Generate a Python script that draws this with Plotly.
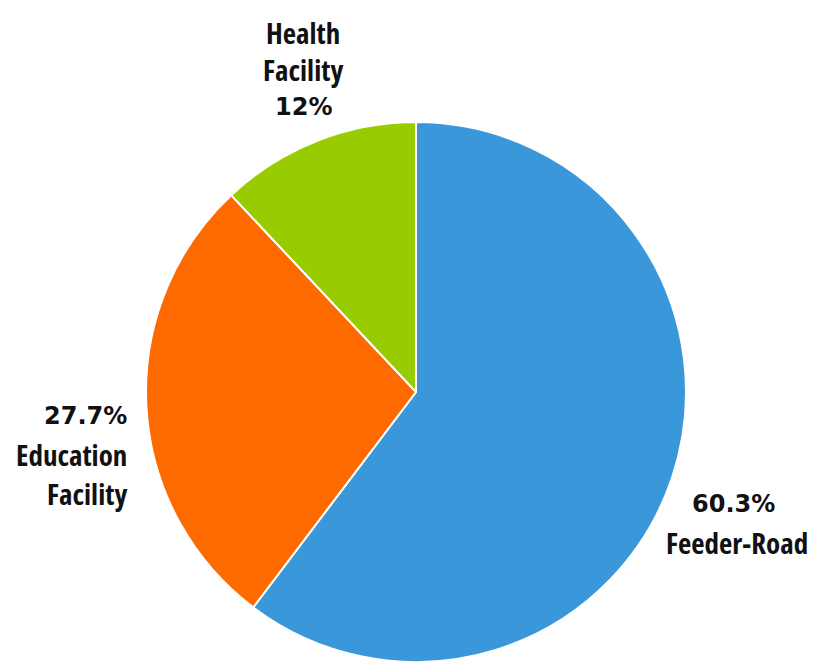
import plotly.graph_objects as go

# Share of projects by facility type
categories = ["Feeder-Road", "Education Facility", "Health Facility"]
shares = [60.3, 27.7, 12]
colors = ["#3A97DA", "#FF6A00", "#99CC00"]

W, H = 813, 666
LABEL_FONT = "Open Sans"
PCT_FONT = "DejaVu Sans"


def px(x, y):
    """Convert pixel coordinates (origin top-left) to paper coordinates."""
    return x / W, 1 - y / H


def pct(v):
    return f"{v:g}%"


fig = go.Figure(
    go.Pie(
        labels=categories,
        values=shares,
        sort=False,
        direction="clockwise",
        rotation=0,
        marker=dict(colors=colors, line=dict(color="white", width=2)),
        textinfo="none",
        hoverinfo="label+percent",
        showlegend=False,
        domain=dict(x=[(416 - 270) / W, (416 + 270) / W],
                    y=[1 - 662 / H, 1 - 122 / H]),
    )
)

# Label lines: (text, font, x_px, y_px, anchor)
lines = [
    ("Health", LABEL_FONT, 303, 32, "center"),
    ("Facility", LABEL_FONT, 303, 70, "center"),
    (pct(shares[2]), PCT_FONT, 303, 107, "center"),
    (pct(shares[1]), PCT_FONT, 129, 416, "right"),
    ("Education", LABEL_FONT, 129, 454, "right"),
    ("Facility", LABEL_FONT, 129, 493, "right"),
    (pct(shares[0]), PCT_FONT, 690, 504, "left"),
    ("Feeder-Road", LABEL_FONT, 664, 542, "left"),
]

for text, family, x, y, anchor in lines:
    ax, ay = px(x, y)
    is_pct = family == PCT_FONT
    label = f"<b>{text}</b>" if is_pct else f"<span style='font-stretch:condensed'><b>{text}</b></span>"
    fig.add_annotation(
        x=ax, y=ay, xref="paper", yref="paper",
        text=label,
        showarrow=False,
        xanchor=anchor, yanchor="middle",
        font=dict(family=family, size=24 if is_pct else 29, color="#111111"),
    )

fig.update_layout(
    width=W, height=H,
    margin=dict(l=0, r=0, t=0, b=0),
    paper_bgcolor="white",
    plot_bgcolor="white",
)

fig.write_html("out.html")
